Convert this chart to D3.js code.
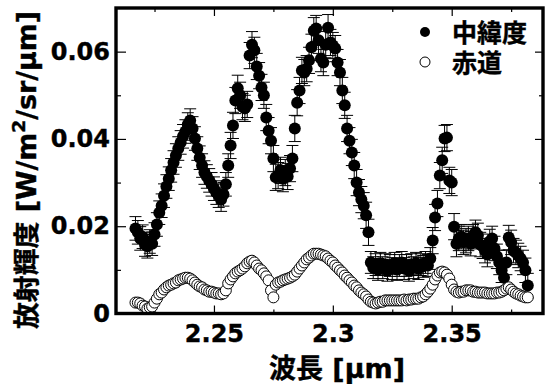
<!DOCTYPE html>
<html><head><meta charset="utf-8">
<script src="https://cdn.jsdelivr.net/npm/d3@7"></script>
<style>
html,body{margin:0;padding:0;background:#fff;}
svg{display:block;}
</style></head>
<body>
<script>
const wavelengths = [
2.217,2.218,2.219,2.220,2.221,2.222,2.223,2.224,2.225,2.226,
2.227,2.228,2.229,2.230,2.231,2.232,2.233,2.234,2.235,2.236,
2.237,2.238,2.239,2.240,2.241,2.242,2.243,2.244,2.245,2.246,
2.247,2.248,2.249,2.250,2.251,2.252,2.253,2.254,2.255,2.256,
2.257,2.258,2.259,2.260,2.261,2.262,2.263,2.264,2.265,2.266,
2.267,2.268,2.269,2.270,2.271,2.272,2.273,2.274,2.275,2.276,
2.277,2.278,2.279,2.280,2.281,2.282,2.283,2.284,2.285,2.286,
2.287,2.288,2.289,2.290,2.291,2.292,2.293,2.294,2.295,2.296,
2.297,2.298,2.299,2.300,2.301,2.302,2.303,2.304,2.305,2.306,
2.307,2.308,2.309,2.310,2.311,2.312,2.313,2.314,2.315,2.316,
2.317,2.318,2.319,2.320,2.321,2.322,2.323,2.324,2.325,2.326,
2.327,2.328,2.329,2.330,2.331,2.332,2.333,2.334,2.335,2.336,
2.337,2.338,2.339,2.340,2.341,2.342,2.343,2.344,2.345,2.346,
2.347,2.348,2.349,2.350,2.351,2.352,2.353,2.354,2.355,2.356,
2.357,2.358,2.359,2.360,2.361,2.362,2.363,2.364,2.365,2.366,
2.367,2.368,2.369,2.370,2.371,2.372,2.373,2.374,2.375,2.376,
2.377,2.378,2.379,2.380,2.381,2.382];

const midLatitude = [
0.0195,0.0186,0.0172,0.0176,0.0158,0.0154,0.0165,0.0160,0.0181,0.0204,
0.0231,0.0247,0.0270,0.0291,0.0309,0.0328,0.0346,0.0362,0.0378,0.0392,
0.0406,0.0417,0.0433,0.0442,0.0424,0.0401,0.0378,0.0357,0.0339,0.0323,
0.0314,0.0305,0.0296,0.0286,0.0277,0.0270,0.0261,0.0273,0.0296,0.0339,
0.0385,0.0431,0.0488,0.0516,0.0500,0.0474,0.0470,0.0479,0.0591,0.0616,
0.0603,0.0566,0.0545,0.0518,0.0500,0.0449,0.0419,0.0396,0.0355,0.0312,
0.0316,0.0328,0.0309,0.0323,0.0314,0.0332,0.0355,0.0424,0.0483,0.0511,
0.0557,0.0552,0.0561,0.0580,0.0610,0.0648,0.0653,0.0626,0.0584,0.0575,
0.0616,0.0655,0.0621,0.0614,0.0607,0.0575,0.0552,0.0511,0.0477,0.0424,
0.0396,0.0369,0.0339,0.0300,0.0277,0.0261,0.0247,0.0225,0.0186,0.0117,
0.0105,0.0112,0.0101,0.0115,0.0105,0.0112,0.0099,0.0110,0.0103,0.0115,
0.0101,0.0110,0.0117,0.0103,0.0110,0.0099,0.0112,0.0105,0.0115,0.0103,
0.0112,0.0108,0.0117,0.0110,0.0126,0.0167,0.0220,0.0252,0.0316,0.0351,
0.0401,0.0403,0.0305,0.0300,0.0199,0.0160,0.0172,0.0176,0.0163,0.0167,
0.0172,0.0160,0.0176,0.0186,0.0179,0.0158,0.0154,0.0144,0.0135,0.0165,
0.0172,0.0149,0.0131,0.0117,0.0099,0.0082,0.0117,0.0174,0.0163,0.0144,
0.0140,0.0133,0.0126,0.0117,0.0099,0.0064];

const midLatitudeError = [
0.0027,0.0027,0.0027,0.0027,0.0027,0.0027,0.0027,0.0027,0.0027,0.0027,
0.0027,0.0027,0.0027,0.0027,0.0027,0.0027,0.0027,0.0027,0.0027,0.0027,
0.0027,0.0027,0.0027,0.0027,0.0027,0.0027,0.0027,0.0027,0.0027,0.0027,
0.0027,0.0027,0.0027,0.0027,0.0027,0.0027,0.0027,0.0027,0.0027,0.0027,
0.0030,0.0030,0.0030,0.0030,0.0030,0.0030,0.0030,0.0030,0.0030,0.0030,
0.0030,0.0030,0.0030,0.0030,0.0030,0.0030,0.0030,0.0030,0.0030,0.0030,
0.0030,0.0030,0.0030,0.0030,0.0030,0.0030,0.0030,0.0030,0.0030,0.0030,
0.0030,0.0030,0.0030,0.0030,0.0030,0.0030,0.0030,0.0030,0.0030,0.0030,
0.0030,0.0030,0.0030,0.0030,0.0030,0.0030,0.0030,0.0030,0.0030,0.0030,
0.0030,0.0030,0.0030,0.0030,0.0030,0.0030,0.0030,0.0030,0.0030,0.0025,
0.0025,0.0025,0.0025,0.0025,0.0025,0.0025,0.0025,0.0025,0.0025,0.0025,
0.0025,0.0025,0.0025,0.0025,0.0025,0.0025,0.0025,0.0025,0.0025,0.0025,
0.0025,0.0025,0.0025,0.0025,0.0025,0.0030,0.0030,0.0030,0.0030,0.0030,
0.0030,0.0030,0.0030,0.0030,0.0030,0.0030,0.0028,0.0028,0.0028,0.0028,
0.0028,0.0028,0.0028,0.0028,0.0028,0.0028,0.0028,0.0028,0.0028,0.0028,
0.0028,0.0028,0.0028,0.0028,0.0028,0.0028,0.0028,0.0028,0.0028,0.0028,
0.0028,0.0028,0.0028,0.0028,0.0028,0.0028];

const equator = [
0.0025,0.0025,0.0023,0.0018,0.0016,0.0011,0.0014,0.0016,0.0025,0.0034,
0.0044,0.0048,0.0055,0.0060,0.0064,0.0066,0.0069,0.0071,0.0076,0.0078,
0.0080,0.0082,0.0082,0.0080,0.0076,0.0071,0.0066,0.0062,0.0060,0.0055,
0.0053,0.0050,0.0050,0.0048,0.0046,0.0046,0.0044,0.0046,0.0053,0.0069,
0.0078,0.0085,0.0092,0.0096,0.0099,0.0103,0.0108,0.0115,0.0119,0.0121,
0.0117,0.0110,0.0103,0.0099,0.0092,0.0085,0.0076,0.0053,0.0037,0.0066,
0.0071,0.0073,0.0076,0.0078,0.0080,0.0082,0.0085,0.0089,0.0096,0.0103,
0.0110,0.0117,0.0124,0.0128,0.0133,0.0137,0.0137,0.0137,0.0135,0.0133,
0.0131,0.0126,0.0121,0.0117,0.0110,0.0105,0.0099,0.0094,0.0087,0.0082,
0.0076,0.0071,0.0064,0.0060,0.0053,0.0048,0.0044,0.0039,0.0032,0.0027,
0.0025,0.0023,0.0025,0.0027,0.0027,0.0030,0.0030,0.0030,0.0030,0.0030,
0.0030,0.0030,0.0030,0.0032,0.0030,0.0032,0.0032,0.0034,0.0034,0.0034,
0.0037,0.0039,0.0044,0.0050,0.0057,0.0066,0.0078,0.0087,0.0094,0.0096,
0.0094,0.0089,0.0080,0.0066,0.0055,0.0050,0.0048,0.0050,0.0050,0.0053,
0.0053,0.0053,0.0050,0.0050,0.0048,0.0048,0.0048,0.0048,0.0046,0.0046,
0.0046,0.0046,0.0048,0.0048,0.0050,0.0053,0.0057,0.0060,0.0055,0.0050,
0.0046,0.0044,0.0041,0.0039,0.0037,0.0037];

const xTicks = [2.25, 2.3, 2.35];
const xTickLabels = ["2.25", "2.3", "2.35"];
const xMinorTicks = [2.225, 2.275, 2.325, 2.375];
const yTicks = [0, 0.02, 0.04, 0.06];
const yTickLabels = ["0", "0.02", "0.04", "0.06"];
const yMinorTicks = [0.01, 0.03, 0.05];
const seriesNames = ["中緯度", "赤道"];
const xTitle = "波長 [μm]";

const W = 545, H = 384;
const L = 116, R = 543, T = 8, B = 313.5;
const numFont = "'DejaVu Sans', 'Liberation Sans', sans-serif";
const jpFont = "'DejaVu Sans', 'Noto Sans CJK JP', sans-serif";

const svg = d3.select("body").append("svg").attr("width", W).attr("height", H);

const x = d3.scaleLinear().domain([2.2088, 2.3884]).range([L, R]);
const y = d3.scaleLinear().domain([0, 0.07]).range([B, T]);

function styleAxis(g) {
  g.select(".domain").remove();
  g.selectAll(".tick line").attr("stroke", "#000").attr("stroke-width", 1.2);
  g.selectAll(".tick text").attr("fill", "#000")
    .attr("font-family", numFont).attr("font-weight", "bold").attr("font-size", 24)
    .attr("stroke", "#000").attr("stroke-width", 0.4);
}

// bottom axis
svg.append("g").attr("transform", `translate(0,${B})`)
  .call(d3.axisBottom(x).tickValues(xTicks).tickFormat((d, i) => xTickLabels[i]).tickSize(-8).tickPadding(11))
  .call(styleAxis);
svg.append("g").attr("transform", `translate(0,${B})`)
  .call(d3.axisBottom(x).tickValues(xMinorTicks).tickFormat("").tickSize(-4))
  .call(styleAxis);
// top axis
svg.append("g").attr("transform", `translate(0,${T})`)
  .call(d3.axisTop(x).tickValues(xTicks).tickFormat("").tickSize(-8))
  .call(styleAxis);
svg.append("g").attr("transform", `translate(0,${T})`)
  .call(d3.axisTop(x).tickValues(xMinorTicks).tickFormat("").tickSize(-4))
  .call(styleAxis);
// left axis
svg.append("g").attr("transform", `translate(${L},0)`)
  .call(d3.axisLeft(y).tickValues(yTicks).tickFormat((d, i) => yTickLabels[i]).tickSize(-10).tickPadding(6))
  .call(styleAxis);
svg.append("g").attr("transform", `translate(${L},0)`)
  .call(d3.axisLeft(y).tickValues(yMinorTicks).tickFormat("").tickSize(-5))
  .call(styleAxis);
// right axis
svg.append("g").attr("transform", `translate(${R},0)`)
  .call(d3.axisRight(y).tickValues(yTicks).tickFormat("").tickSize(-8))
  .call(styleAxis);
svg.append("g").attr("transform", `translate(${R},0)`)
  .call(d3.axisRight(y).tickValues(yMinorTicks).tickFormat("").tickSize(-4))
  .call(styleAxis);

const midData = wavelengths.map((w, i) => ({w, v: midLatitude[i], e: midLatitudeError[i]}));
const eqData = wavelengths.map((w, i) => ({w, v: equator[i]}));

// error bars
const eb = svg.append("g").attr("stroke", "#000").attr("stroke-width", 1);
eb.selectAll("line.v").data(midData).join("line").attr("class", "v")
  .attr("x1", d => x(d.w)).attr("x2", d => x(d.w))
  .attr("y1", d => y(d.v - d.e)).attr("y2", d => y(d.v + d.e));
eb.selectAll("line.t").data(midData).join("line").attr("class", "t")
  .attr("x1", d => x(d.w) - 6).attr("x2", d => x(d.w) + 6)
  .attr("y1", d => y(d.v + d.e)).attr("y2", d => y(d.v + d.e));
eb.selectAll("line.b").data(midData).join("line").attr("class", "b")
  .attr("x1", d => x(d.w) - 6).attr("x2", d => x(d.w) + 6)
  .attr("y1", d => y(d.v - d.e)).attr("y2", d => y(d.v - d.e));

// filled markers
svg.append("g").selectAll("circle").data(midData).join("circle")
  .attr("cx", d => x(d.w)).attr("cy", d => y(d.v)).attr("r", 6)
  .attr("fill", "#000");

// open markers
svg.append("g").selectAll("circle").data(eqData).join("circle")
  .attr("cx", d => x(d.w)).attr("cy", d => y(d.v)).attr("r", 5.5)
  .attr("fill", "#fff").attr("stroke", "#000").attr("stroke-width", 1);

// frame
svg.append("rect").attr("x", L).attr("y", T).attr("width", R - L).attr("height", B - T)
  .attr("fill", "none").attr("stroke", "#000").attr("stroke-width", 3.4);

// legend
const lg = svg.append("g");
lg.append("circle").attr("cx", 425).attr("cy", 32).attr("r", 5).attr("fill", "#000");
lg.append("circle").attr("cx", 425).attr("cy", 62).attr("r", 5).attr("fill", "#fff").attr("stroke", "#000").attr("stroke-width", 1);
lg.selectAll("text").data(seriesNames).join("text")
  .attr("x", 452).attr("y", (d, i) => 42 + i * 30)
  .attr("font-family", jpFont).attr("font-weight", "bold").attr("font-size", 25)
  .attr("stroke", "#000").attr("stroke-width", 0.4)
  .text(d => d);

// x title
svg.append("text").attr("x", 337).attr("y", 378).attr("text-anchor", "middle")
  .attr("font-family", jpFont).attr("font-weight", "bold").attr("font-size", 27)
  .attr("stroke", "#000").attr("stroke-width", 0.4)
  .text(xTitle);

// y title
const yt = svg.append("text").attr("transform", "translate(36,170) rotate(-90)")
  .attr("text-anchor", "middle")
  .attr("font-family", jpFont).attr("font-weight", "bold").attr("font-size", 26)
  .attr("stroke", "#000").attr("stroke-width", 0.4)
  .attr("textLength", 318).attr("lengthAdjust", "spacingAndGlyphs");
yt.append("tspan").text("放射輝度 [W/m");
yt.append("tspan").attr("dy", -11).attr("font-size", 18).text("2");
yt.append("tspan").attr("dy", 11).text("/sr/μm]");
</script>
</body></html>
